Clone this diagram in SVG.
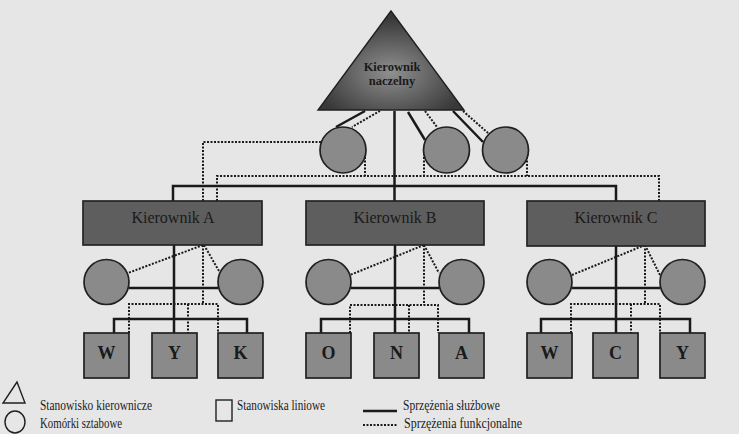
<svg xmlns="http://www.w3.org/2000/svg" width="739" height="434" viewBox="0 0 739 434">
<defs>
<style>
.sl{stroke:#1a1a1a;stroke-width:2.5;fill:none}
.dl{stroke:#1a1a1a;stroke-width:2;stroke-dasharray:2 1.5;fill:none}
.box{fill:#5e5e5e;stroke:#242424;stroke-width:1.7}
.cir{fill:#8a8a8a;stroke:#202020;stroke-width:1.7}
.sq{fill:#8a8a8a;stroke:#202020;stroke-width:1.7}
.bt{font-family:"Liberation Serif",serif;font-size:16px;fill:#1a1a1a;text-anchor:middle}
.let{font-family:"Liberation Serif",serif;font-size:18px;font-weight:bold;fill:#1a1a1a;text-anchor:middle}
.tt{font-family:"Liberation Serif",serif;font-size:12.5px;font-weight:bold;fill:#1a1a1a;text-anchor:middle}
.lg{font-family:"Liberation Serif",serif;font-size:14.5px;fill:#1a1a1a}
.lgs{fill:none;stroke:#202020;stroke-width:1.4}
</style>
<radialGradient id="tg" cx="0.5" cy="0.62" r="0.55">
<stop offset="0" stop-color="#909090"/>
<stop offset="1" stop-color="#383838"/>
</radialGradient>
</defs>
<rect width="739" height="434" fill="#e6e6e6"/>
<g id="connectors">
<path class="sl" d="M394.5 111V201M173 201V186H616V201M365 111L336 127M408 112L425 140M453 111L483 142"/>
<path class="dl" d="M380 111L352 127M425 111L437 127M463 111L488 133M321 142H203V201M217 201V176H659V201M365 157V176M424 157V176M527 157V176"/>
<path class="sl" d="M174 245V333M129 288H218M114 333V319H247V333"/>
<path class="dl" d="M203 245V304M129 333V304H218V333M188 304V333M203 245L128 273M204 245L219 271"/>
<path class="sl" d="M395 245V333M351 288H439M321 333V319H469V333"/>
<path class="dl" d="M424 245V305M350 333V305H438V333M409 305V333M424 245L350 275M424 245L439 273"/>
<path class="sl" d="M616 245V333M572 288H660M541 333V319H690V333"/>
<path class="dl" d="M645 245V304M571 333V304H660V333M631 304V333M645 245L572 275M645 245L660 275"/>
</g>
<g id="naczelny">
<polygon points="391,11 318,110 464,110" fill="url(#tg)" stroke="#202020" stroke-width="1.4"/>
<text class="tt" x="392" y="71">Kierownik</text>
<text class="tt" x="392" y="85">naczelny</text>
</g>
<g id="sztab1"><circle class="cir" cx="343" cy="150" r="23"/></g>
<g id="sztab2"><circle class="cir" cx="446.5" cy="150" r="23"/></g>
<g id="sztab3"><circle class="cir" cx="505.5" cy="150" r="23"/></g>
<g id="kierownikA"><rect class="box" x="83" y="201" width="179" height="44"/><text class="bt" x="173" y="223">Kierownik A</text></g>
<g id="kierownikB"><rect class="box" x="306" y="201" width="178" height="44"/><text class="bt" x="395" y="223">Kierownik B</text></g>
<g id="kierownikC"><rect class="box" x="527" y="201" width="178" height="45"/><text class="bt" x="616" y="223">Kierownik C</text></g>
<g id="sztabA1"><circle class="cir" cx="106.5" cy="282" r="22.5"/></g>
<g id="sztabA2"><circle class="cir" cx="240.5" cy="282" r="22.5"/></g>
<g id="sztabB1"><circle class="cir" cx="328.5" cy="282" r="22.5"/></g>
<g id="sztabB2"><circle class="cir" cx="461.5" cy="282" r="22.5"/></g>
<g id="sztabC1"><circle class="cir" cx="549.5" cy="282" r="22.5"/></g>
<g id="sztabC2"><circle class="cir" cx="682.5" cy="282" r="22.5"/></g>
<g id="A-W"><rect class="sq" x="84" y="333" width="45" height="45"/><text class="let" x="106.5" y="359">W</text></g>
<g id="A-Y"><rect class="sq" x="152" y="333" width="45" height="45"/><text class="let" x="174.5" y="359">Y</text></g>
<g id="A-K"><rect class="sq" x="218" y="333" width="45" height="45"/><text class="let" x="240.5" y="359">K</text></g>
<g id="B-O"><rect class="sq" x="306" y="333" width="45" height="45"/><text class="let" x="328.5" y="359">O</text></g>
<g id="B-N"><rect class="sq" x="374" y="333" width="45" height="45"/><text class="let" x="396.5" y="359">N</text></g>
<g id="B-A"><rect class="sq" x="439" y="333" width="45" height="45"/><text class="let" x="461.5" y="359">A</text></g>
<g id="C-W"><rect class="sq" x="527" y="333" width="45" height="45"/><text class="let" x="549.5" y="359">W</text></g>
<g id="C-C"><rect class="sq" x="593" y="333" width="45" height="45"/><text class="let" x="615.5" y="359">C</text></g>
<g id="C-Y"><rect class="sq" x="660" y="333" width="45" height="45"/><text class="let" x="682.5" y="359">Y</text></g>
<g id="legend">
<path class="lgs" d="M17 382L3 403H25Z"/>
<ellipse class="lgs" cx="15" cy="422" rx="10" ry="11"/>
<text class="lg" x="40" y="410" textLength="112" lengthAdjust="spacingAndGlyphs">Stanowisko kierownicze</text>
<text class="lg" x="40" y="428" textLength="82" lengthAdjust="spacingAndGlyphs">Komórki sztabowe</text>
<rect class="lgs" x="216" y="400" width="16" height="21"/>
<text class="lg" x="237" y="410" textLength="88" lengthAdjust="spacingAndGlyphs">Stanowiska liniowe</text>
<path class="sl" d="M363 411H397"/>
<path class="dl" d="M363 425H397"/>
<text class="lg" x="403" y="410" textLength="97" lengthAdjust="spacingAndGlyphs">Sprzężenia służbowe</text>
<text class="lg" x="404" y="428" textLength="118" lengthAdjust="spacingAndGlyphs">Sprzężenia funkcjonalne</text>
</g>
</svg>
